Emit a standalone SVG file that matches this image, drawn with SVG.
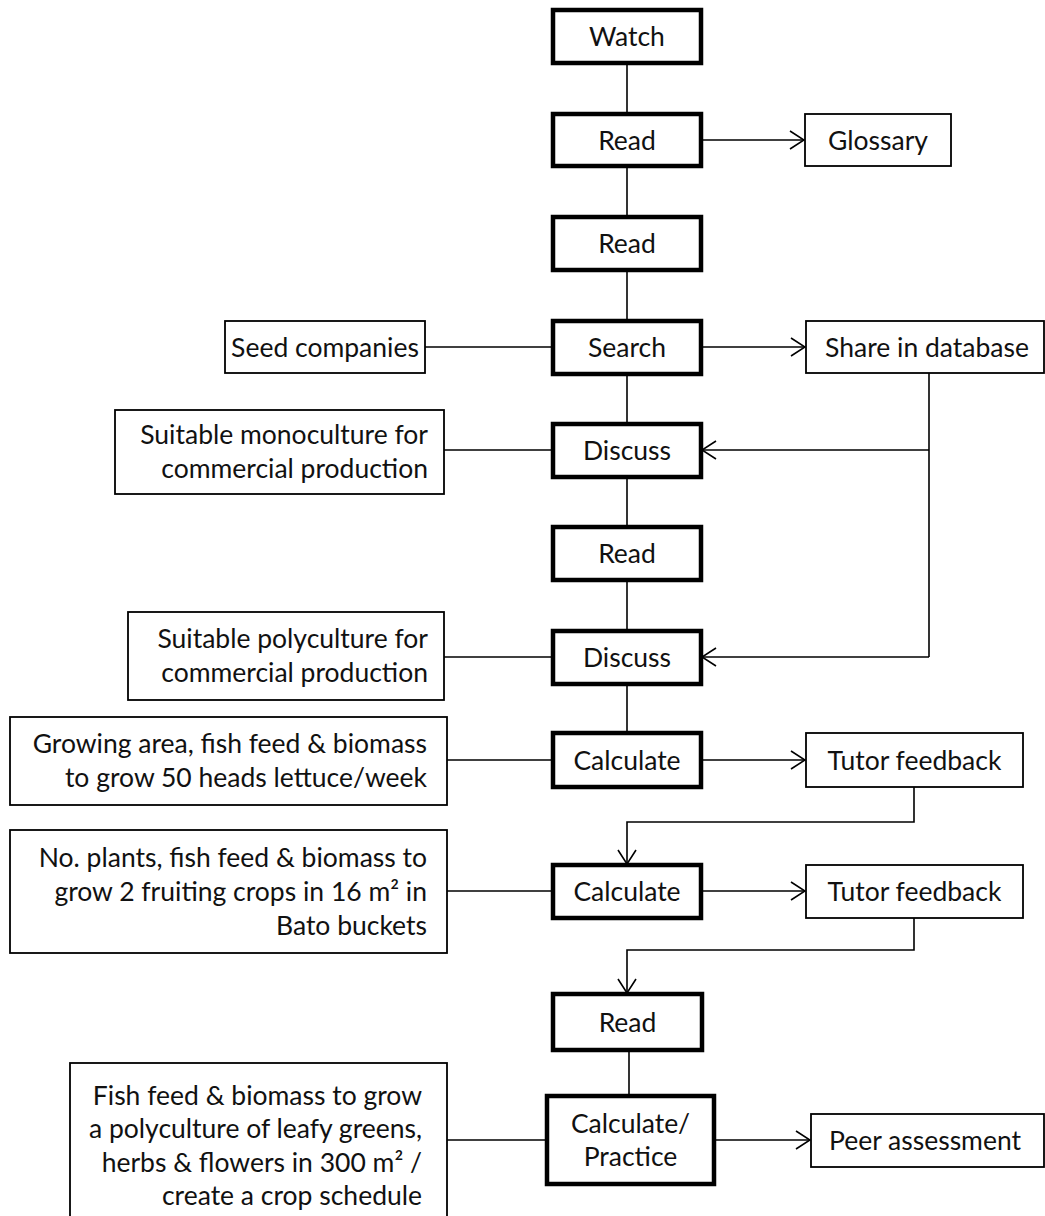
<svg xmlns="http://www.w3.org/2000/svg" width="1045" height="1216" viewBox="0 0 1045 1216">
<defs>
<style>
.thick{fill:#fff;stroke:#000;stroke-width:4.5}
.thin{fill:#fff;stroke:#000;stroke-width:1.8}
text{font-family:Lato,"Liberation Sans",sans-serif;font-size:26.5px;fill:#111}
.c{text-anchor:middle}
.r{text-anchor:end}
.ln{fill:none;stroke:#000;stroke-width:1.6}
</style>
<marker id="arr" viewBox="0 0 16 20" refX="15" refY="10" markerWidth="16" markerHeight="20" markerUnits="userSpaceOnUse" orient="auto">
<path d="M1,1 L15,10 L1,19" fill="none" stroke="#000" stroke-width="1.6"/>
</marker>
</defs>
<rect width="1045" height="1216" fill="#fff"/>
<g id="connectors">
<line class="ln" x1="627" y1="63" x2="627" y2="114"/>
<line class="ln" x1="627" y1="166" x2="627" y2="217"/>
<line class="ln" x1="627" y1="270" x2="627" y2="321"/>
<line class="ln" x1="627" y1="374" x2="627" y2="424"/>
<line class="ln" x1="627" y1="477" x2="627" y2="527"/>
<line class="ln" x1="627" y1="580" x2="627" y2="631"/>
<line class="ln" x1="627" y1="684" x2="627" y2="733"/>
<line class="ln" x1="629" y1="1050" x2="629" y2="1096"/>
<line class="ln" x1="701" y1="140" x2="804" y2="140" marker-end="url(#arr)"/>
<line class="ln" x1="425" y1="347" x2="553" y2="347"/>
<line class="ln" x1="701" y1="347" x2="805" y2="347" marker-end="url(#arr)"/>
<polyline class="ln" points="929,373 929,657"/>
<line class="ln" x1="929" y1="450" x2="702" y2="450" marker-end="url(#arr)"/>
<line class="ln" x1="929" y1="657" x2="702" y2="657" marker-end="url(#arr)"/>
<line class="ln" x1="444" y1="450" x2="553" y2="450"/>
<line class="ln" x1="444" y1="657" x2="553" y2="657"/>
<line class="ln" x1="447" y1="760" x2="553" y2="760"/>
<line class="ln" x1="701" y1="760" x2="805" y2="760" marker-end="url(#arr)"/>
<polyline class="ln" points="914,787 914,822 627,822 627,864" marker-end="url(#arr)"/>
<line class="ln" x1="447" y1="891" x2="553" y2="891"/>
<line class="ln" x1="701" y1="891" x2="805" y2="891" marker-end="url(#arr)"/>
<polyline class="ln" points="914,918 914,950 627,950 627,993" marker-end="url(#arr)"/>
<line class="ln" x1="447" y1="1140" x2="547" y2="1140"/>
<line class="ln" x1="714" y1="1140" x2="810" y2="1140" marker-end="url(#arr)"/>
</g>
<g id="watch"><rect class="thick" x="553" y="10" width="148" height="53"/><text class="c" x="627" y="46">Watch</text></g>
<g id="read1"><rect class="thick" x="553" y="114" width="148" height="52"/><text class="c" x="627" y="149.5">Read</text></g>
<g id="glossary"><rect class="thin" x="805" y="114" width="146" height="52"/><text class="c" x="878" y="149.5">Glossary</text></g>
<g id="read2"><rect class="thick" x="553" y="217" width="148" height="53"/><text class="c" x="627" y="253">Read</text></g>
<g id="search"><rect class="thick" x="553" y="321" width="148" height="53"/><text class="c" x="627" y="356.5">Search</text></g>
<g id="seed"><rect class="thin" x="225" y="321" width="200" height="52"/><text class="c" x="325" y="356.5">Seed companies</text></g>
<g id="share"><rect class="thin" x="806" y="321" width="238" height="52"/><text class="c" x="927" y="356.5">Share in database</text></g>
<g id="discuss1"><rect class="thick" x="553" y="424" width="148" height="53"/><text class="c" x="627" y="460">Discuss</text></g>
<g id="mono"><rect class="thin" x="115" y="410" width="329" height="84"/><text class="r" x="428" y="444">Suitable monoculture for</text><text class="r" x="428" y="478">commercial production</text></g>
<g id="read3"><rect class="thick" x="553" y="527" width="148" height="53"/><text class="c" x="627" y="563">Read</text></g>
<g id="discuss2"><rect class="thick" x="553" y="631" width="148" height="53"/><text class="c" x="627" y="667">Discuss</text></g>
<g id="poly"><rect class="thin" x="128" y="612" width="316" height="88"/><text class="r" x="428" y="648">Suitable polyculture for</text><text class="r" x="428" y="682">commercial production</text></g>
<g id="calc1"><rect class="thick" x="553" y="733" width="148" height="54"/><text class="c" x="627" y="769.5">Calculate</text></g>
<g id="growing"><rect class="thin" x="10" y="717" width="437" height="88"/><text class="r" x="427" y="753">Growing area, fish feed &amp; biomass</text><text class="r" x="427" y="787">to grow 50 heads lettuce/week</text></g>
<g id="tutor1"><rect class="thin" x="806" y="733" width="217" height="54"/><text class="c" x="914.5" y="769.5">Tutor feedback</text></g>
<g id="calc2"><rect class="thick" x="553" y="865" width="148" height="53"/><text class="c" x="627" y="901">Calculate</text></g>
<g id="noplants"><rect class="thin" x="10" y="830" width="437" height="123"/><text class="r" x="427" y="867">No. plants, fish feed &amp; biomass to</text><text class="r" x="427" y="901">grow 2 fruiting crops in 16 m² in</text><text class="r" x="427" y="935">Bato buckets</text></g>
<g id="tutor2"><rect class="thin" x="806" y="865" width="217" height="53"/><text class="c" x="914.5" y="901">Tutor feedback</text></g>
<g id="read4"><rect class="thick" x="553" y="994" width="149" height="56"/><text class="c" x="627.5" y="1031.5">Read</text></g>
<g id="calcpractice"><rect class="thick" x="547" y="1096" width="167" height="88"/><text class="c" x="630.5" y="1133">Calculate/</text><text class="c" x="630.5" y="1166">Practice</text></g>
<g id="fishfeed"><rect class="thin" x="70" y="1063" width="377" height="160"/><text class="r" x="422" y="1105">Fish feed &amp; biomass to grow</text><text class="r" x="422" y="1138">a polyculture of leafy greens,</text><text class="r" x="422" y="1172">herbs &amp; flowers in 300 m² /</text><text class="r" x="422" y="1205">create a crop schedule</text></g>
<g id="peer"><rect class="thin" x="811" y="1114" width="233" height="53"/><text class="c" x="925" y="1150">Peer assessment</text></g>
</svg>
